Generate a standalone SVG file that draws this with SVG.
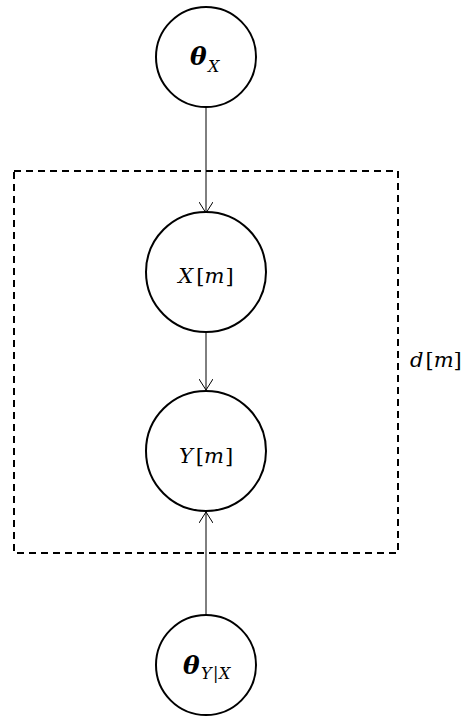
<svg xmlns="http://www.w3.org/2000/svg" width="461" height="717" viewBox="0 0 461 717">
<defs>
<style>
.node{fill:#fff;stroke:#000;stroke-width:2}
.edge{stroke:#000;stroke-width:1;fill:none}
.lbl{font-family:"DejaVu Serif","Liberation Serif",serif;font-style:italic;fill:#000;font-size:21px}
.up{font-style:normal}
.th{font-size:25px;font-weight:bold}
.sub{font-size:16px}
.plate{fill:none;stroke:#000;stroke-width:2;stroke-dasharray:7,5}
</style>
<marker id="arr" viewBox="0 0 12 14" refX="11" refY="7" markerWidth="12" markerHeight="14" markerUnits="userSpaceOnUse" orient="auto">
<path d="M0,0 L11,7 L0,14" fill="none" stroke="#000" stroke-width="1"/>
</marker>
</defs>
<rect class="plate" x="14" y="171" width="384" height="382"/>
<text class="lbl" x="410" y="367" font-size="18">d<tspan class="up" dx="2">[</tspan>m<tspan class="up">]</tspan></text>
<g id="connectors">
<line class="edge" x1="206" y1="107" x2="206" y2="213" marker-end="url(#arr)"/>
<line class="edge" x1="206" y1="332" x2="206" y2="390" marker-end="url(#arr)"/>
<line class="edge" x1="206" y1="615" x2="206" y2="512" marker-end="url(#arr)"/>
</g>
<g id="thetaX">
<circle class="node" cx="206" cy="57" r="50"/>
<text class="lbl" y="65"><tspan class="th" x="190">θ</tspan><tspan class="sub" x="208" y="72">X</tspan></text>
</g>
<g id="Xm">
<circle class="node" cx="206" cy="272" r="60"/>
<text class="lbl" x="206" y="283" text-anchor="middle">X<tspan class="up" dx="3">[</tspan>m<tspan class="up" dx="1">]</tspan></text>
</g>
<g id="Ym">
<circle class="node" cx="206" cy="451" r="60"/>
<text class="lbl" x="206" y="463" text-anchor="middle">Y<tspan class="up" dx="3">[</tspan>m<tspan class="up" dx="1">]</tspan></text>
</g>
<g id="thetaYX">
<circle class="node" cx="206" cy="665" r="50"/>
<text class="lbl" y="674"><tspan class="th" x="183">θ</tspan><tspan class="sub" x="201" y="679">Y</tspan><tspan class="sub up" x="213" y="679">|</tspan><tspan class="sub" x="219" y="679">X</tspan></text>
</g>
</svg>
